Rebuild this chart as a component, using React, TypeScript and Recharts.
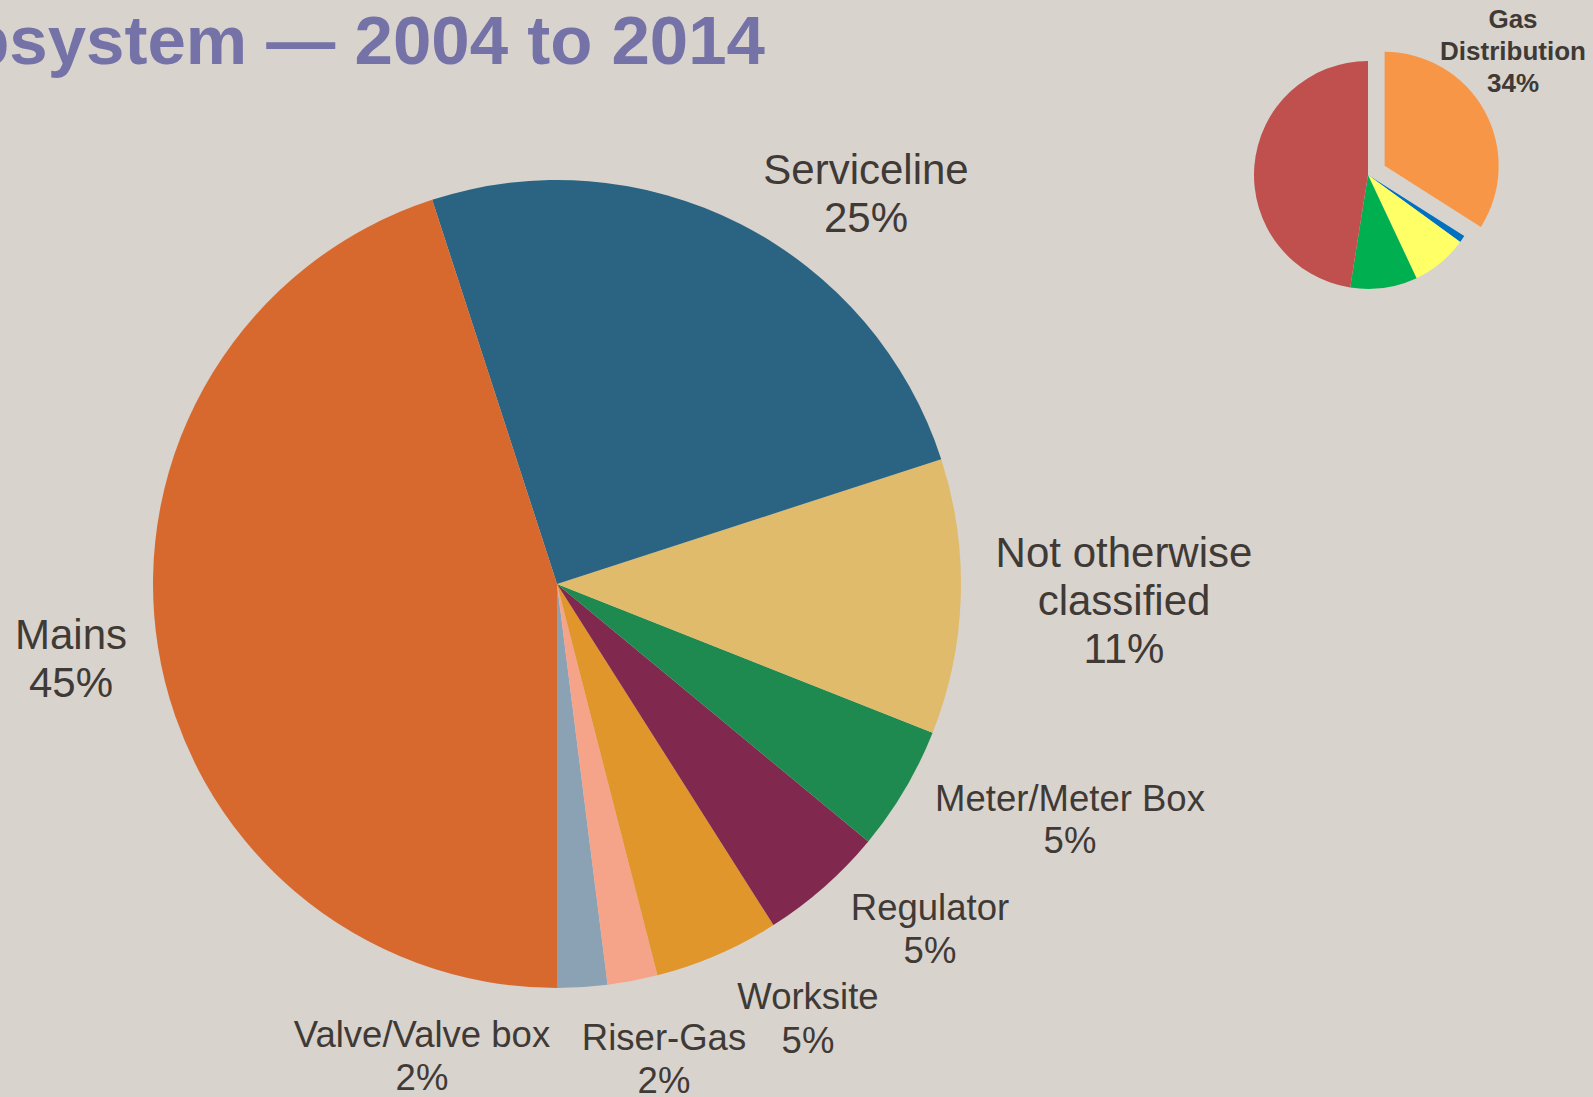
import React from 'react';
import { PieChart, Pie, Cell } from 'recharts';

// ---- Data ----
const subsystemNames = [
  'Valve/Valve box',
  'Riser-Gas',
  'Worksite',
  'Regulator',
  'Meter/Meter Box',
  'Not otherwise classified',
  'Serviceline',
  'Mains',
];
const subsystemShares = [2, 2, 5, 5, 5, 11, 25, 45];
const subsystemLabelLines = [
  ['Valve/Valve box'],
  ['Riser-Gas'],
  ['Worksite'],
  ['Regulator'],
  ['Meter/Meter Box'],
  ['Not otherwise', 'classified'],
  ['Serviceline'],
  ['Mains'],
];

const systemNames = ['Gas Distribution', 'LNG', 'Gas Gathering', 'Gas Transmission', 'Hazardous Liquid'];
const systemShares = [34, 1, 8, 9.5, 47.5];
const systemLabelLines = [['Gas', 'Distribution'], [], [], [], []];

const titleText = 'Gas Distribution Incidents by Subsystem \u2014 2004 to 2014';

// ---- Styles / layout ----
const BG = '#D9D3CD';
const TEXT = '#403A36';
const subsystemColors = ['#8BA2B5', '#F5A48A', '#E0962A', '#81284E', '#1F8A50', '#E0BB6B', '#2B6482', '#D8692E'];
const systemColors = ['#F79646', '#0070C0', '#FFFF66', '#00B050', '#C0504D'];

const labelLayout: Record<string, { x: number; y: number; size: number; lh: number }> = {
  'Valve/Valve box': { x: 422, y: 1047, size: 36.5, lh: 43 },
  'Riser-Gas': { x: 664, y: 1050, size: 36.5, lh: 43 },
  Worksite: { x: 808, y: 1009, size: 36.5, lh: 44 },
  Regulator: { x: 930, y: 920, size: 36.5, lh: 43 },
  'Meter/Meter Box': { x: 1070, y: 811, size: 36.5, lh: 42 },
  'Not otherwise classified': { x: 1124, y: 567, size: 42, lh: 48 },
  Serviceline: { x: 866, y: 184, size: 42, lh: 48 },
  Mains: { x: 71, y: 649, size: 42, lh: 48 },
  'Gas Distribution': { x: 1513, y: 28, size: 26, lh: 32 },
};

const W = 1593;
const H = 1097;

const subsystemData = subsystemNames.map((name, i) => ({
  name,
  value: subsystemShares[i],
  lines: subsystemLabelLines[i],
}));
const systemData = systemNames.map((name, i) => ({
  name,
  value: systemShares[i],
  lines: systemLabelLines[i],
}));

const makeLabel = (bold: boolean, only?: string) => (props: any) => {
  const p = props.payload ?? props;
  const name = p.name ?? props.name;
  if (only && name !== only) return null;
  const lay = labelLayout[name];
  if (!lay) return null;
  const lines: string[] = [...(p.lines ?? []), `${Math.round(p.value ?? props.value)}%`];
  return (
    <g>
      {lines.map((t, k) => (
        <text
          key={k}
          x={lay.x}
          y={lay.y + k * lay.lh}
          textAnchor="middle"
          fill={TEXT}
          fontFamily="'Liberation Sans', Arial, sans-serif"
          fontWeight={bold ? 'bold' : 'normal'}
          fontSize={lay.size}
        >
          {t}
        </text>
      ))}
    </g>
  );
};

const SMALL_CX = 1368;
const SMALL_CY = 175;
const EXPLODE = 19;
const explodeMid = 90 - (systemShares[0] / systemShares.reduce((a, b) => a + b, 0)) * 180;
const exDx = EXPLODE * Math.cos((explodeMid * Math.PI) / 180);
const exDy = -EXPLODE * Math.sin((explodeMid * Math.PI) / 180);

export default function App() {
  return (
    <div
      style={{
        position: 'absolute',
        left: 0,
        top: 0,
        width: W,
        height: H,
        background: BG,
        overflow: 'hidden',
      }}
    >
      <PieChart width={W} height={H} margin={{ top: 0, right: 0, bottom: 0, left: 0 }}>
        <Pie
          data={subsystemData}
          dataKey="value"
          nameKey="name"
          cx={557}
          cy={584}
          innerRadius={0}
          outerRadius={404}
          startAngle={-90}
          endAngle={270}
          stroke="none"
          isAnimationActive={false}
          labelLine={false}
          label={makeLabel(false)}
        >
          {subsystemData.map((d, i) => (
            <Cell key={d.name} fill={subsystemColors[i]} stroke="none" />
          ))}
        </Pie>
        <Pie
          data={systemData}
          dataKey="value"
          nameKey="name"
          cx={SMALL_CX}
          cy={SMALL_CY}
          innerRadius={0}
          outerRadius={114}
          startAngle={90}
          endAngle={-270}
          stroke="none"
          isAnimationActive={false}
        >
          {systemData.map((d, i) => (
            <Cell key={d.name} fill={i === 0 ? 'none' : systemColors[i]} stroke="none" />
          ))}
        </Pie>
        <Pie
          data={systemData}
          dataKey="value"
          nameKey="name"
          cx={SMALL_CX + exDx}
          cy={SMALL_CY + exDy}
          innerRadius={0}
          outerRadius={114}
          startAngle={90}
          endAngle={-270}
          stroke="none"
          isAnimationActive={false}
          labelLine={false}
          label={makeLabel(true, 'Gas Distribution')}
        >
          {systemData.map((d, i) => (
            <Cell key={d.name} fill={i === 0 ? systemColors[0] : 'none'} stroke="none" />
          ))}
        </Pie>
      </PieChart>
      <svg
        width={W}
        height={100}
        style={{ position: 'absolute', left: 0, top: 0, pointerEvents: 'none' }}
      >
        <text
          x={765}
          y={64}
          textAnchor="end"
          fill="#7472A7"
          fontFamily="'Liberation Sans', Arial, sans-serif"
          fontWeight="bold"
          fontSize={69}
        >
          {titleText}
        </text>
      </svg>
    </div>
  );
}
